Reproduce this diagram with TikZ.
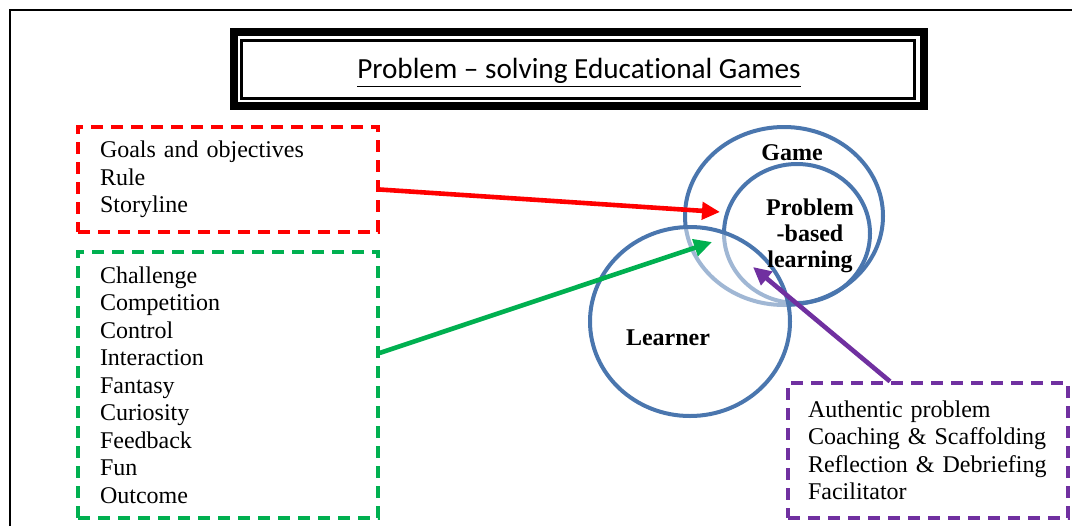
\documentclass[tikz,border=0pt]{standalone}
\usepackage{fontspec}
\setmainfont{Liberation Serif}
\newfontfamily\calibrifont[Ligatures=NoCommon]{Carlito}
\usepackage{xcolor}
\usepackage{tikz}
\usetikzlibrary{positioning,arrows.meta,shapes.geometric}

\definecolor{setblue}{HTML}{4A76AE}
\definecolor{ruleRed}{HTML}{FF0000}
\definecolor{elemGreen}{HTML}{00B050}
\definecolor{pblPurple}{HTML}{7030A0}

\begin{document}
\begin{tikzpicture}[
    x=0.5pt, y=-0.5pt,
    font=\fontsize{12}{13.75}\selectfont,
    lst/.style={draw, line width=1.6pt, dash pattern=on 6pt off 4pt, align=left, inner ysep=0pt},
    set/.style={ellipse, draw=setblue, line width=2pt, inner sep=0pt},
    lbl/.style={font=\fontsize{12}{13}\selectfont\bfseries, align=center},
    arr/.style={line width=2.3pt, -{Triangle[length=9pt,width=8.5pt]}},
  ]
    \useasboundingbox (0,0) rectangle (1072,526);

    % ---------- frame and title ----------
    \draw[line width=1pt] (10,526) -- (10,10) -- (1072,10);
    \draw[line width=4pt] (234,32) rectangle (924,106);
    \draw[line width=1.5pt] (241.5,40) rectangle (914.5,98);
    \node[font=\calibrifont\fontsize{14.6}{16}\selectfont] (title) at (579,73)
      {\underline{Problem – solving Educational Games}};

    % ---------- lists ----------
    \node[lst, draw=ruleRed, text width=128pt, inner xsep=11pt, minimum height=52.5pt] (rules) at (228,179.5)
      {Goals and objectives\\Rule\\Storyline};
    \node[lst, draw=elemGreen, text width=128pt, inner xsep=11pt, minimum height=133pt] (elems) at (228,385)
      {Challenge\\Competition\\Control\\Interaction\\Fantasy\\Curiosity\\Feedback\\Fun\\Outcome};
    \node[lst, draw=pblPurple, text width=120pt, inner xsep=10pt, minimum height=67.5pt] (princ) at (928,450.5)
      {Authentic problem\\Coaching \& Scaffolding\\Reflection \& Debriefing\\Facilitator};

    % ---------- sets ----------
    \node[set, minimum width=99pt, minimum height=89pt] (game) at (784,216) {};
    \node[set, minimum width=73pt, minimum height=69.5pt] (pbl) at (797,233.5) {};
    \node[set, fill=white, fill opacity=0.48, minimum width=100pt, minimum height=94.5pt] (learner) at (690,321.5) {};
    \node[lbl] (gamel) at (792,153) {Game};
    \node[lbl] (pbll) at (810,236) {Problem\\-based\\learning};
    \node[lbl] (learnerl) at (668,338) {Learner};

    % ---------- arrows ----------
    \coordinate (redtip) at (720,212);
    \coordinate (greentip) at (712,242);
    \coordinate (purpletip) at (753,267);
    \draw[arr, ruleRed] ([yshift=-5pt]rules.east) -- (redtip);
    \draw[arr, elemGreen] ([yshift=16pt]elems.east) -- (greentip);
    \draw[arr, pblPurple] ([xshift=-19pt]princ.north) -- (purpletip);
  \end{tikzpicture}
\end{document}
